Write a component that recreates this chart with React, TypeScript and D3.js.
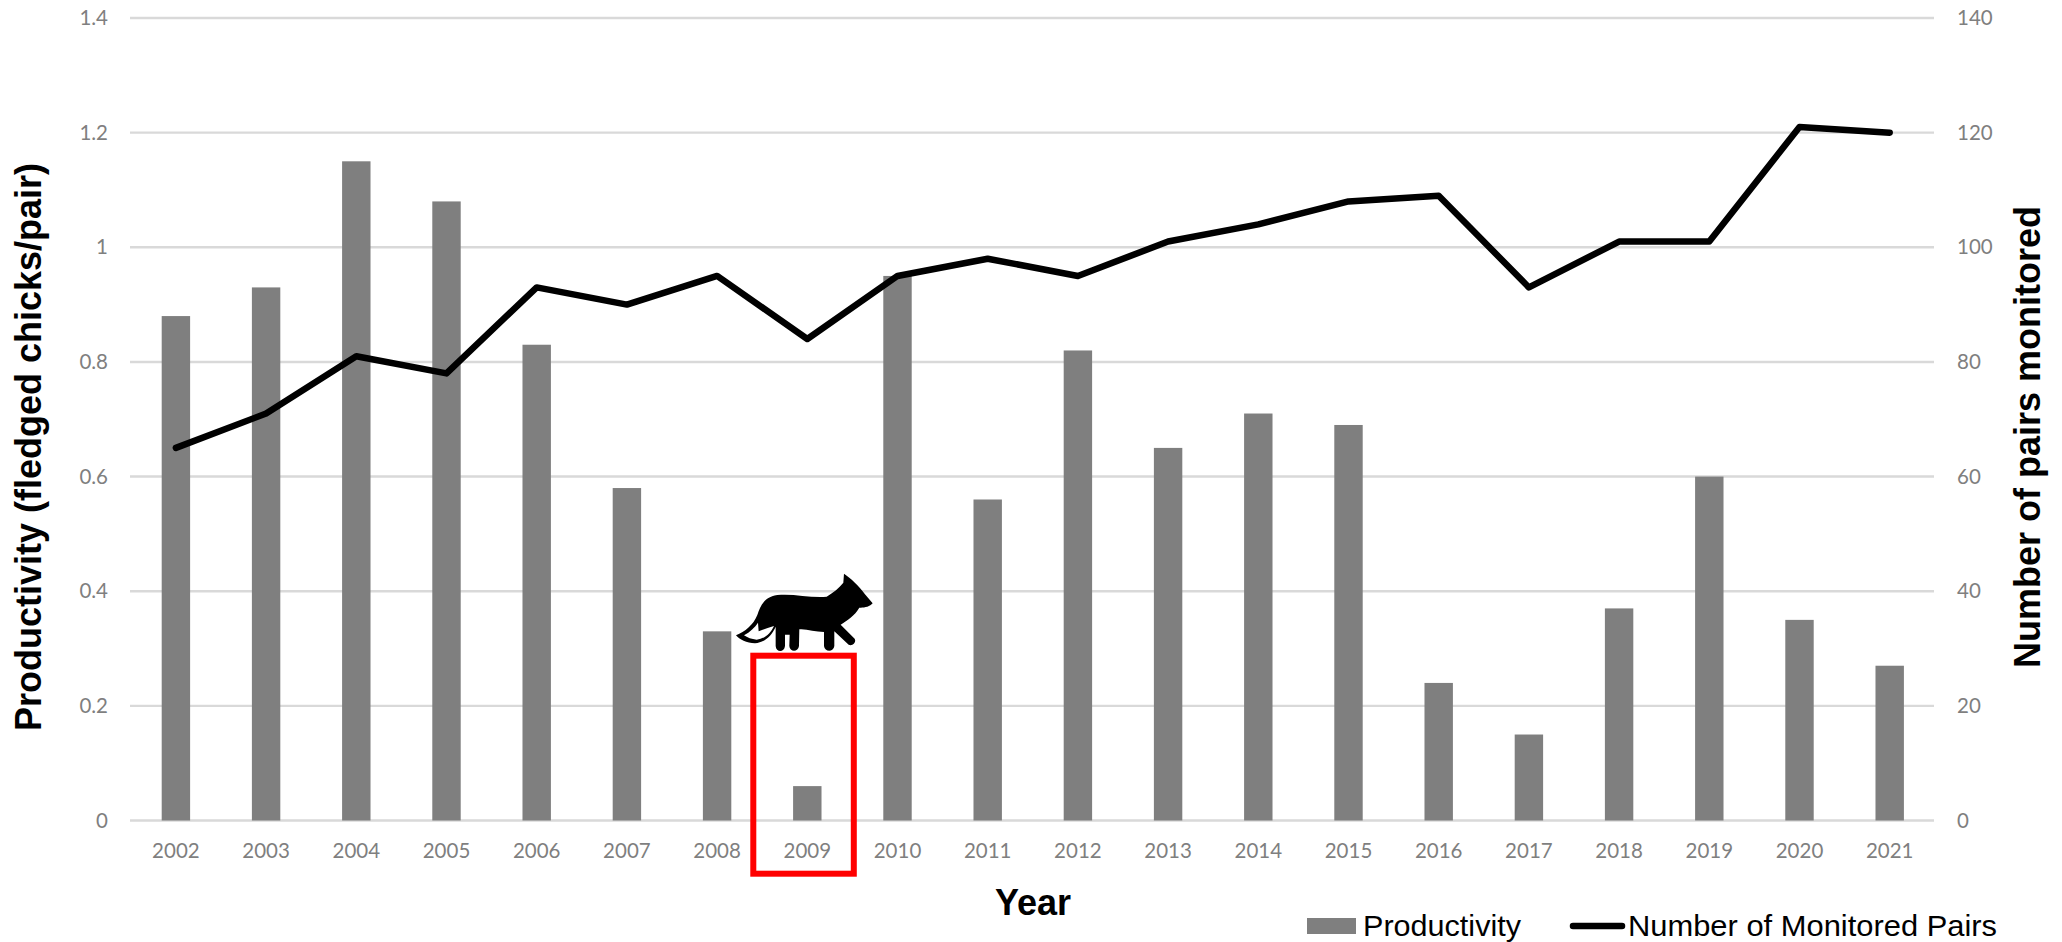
import React from "react";
import * as d3 from "d3";

const years = ["2002","2003","2004","2005","2006","2007","2008","2009","2010","2011","2012","2013","2014","2015","2016","2017","2018","2019","2020","2021"];
const productivity = [0.88,0.93,1.15,1.08,0.83,0.58,0.33,0.06,0.95,0.56,0.82,0.65,0.71,0.69,0.24,0.15,0.37,0.6,0.35,0.27];
const monitoredPairs = [65,71,81,78,93,90,95,84,95,98,95,101,104,108,109,93,101,101,121,120];
const leftTicks = [0,0.2,0.4,0.6,0.8,1,1.2,1.4];
const rightTicks = [0,20,40,60,80,100,120,140];
const highlightedYear = "2009";

const W = 2062, H = 942;
const plot = { left: 130, right: 1934, top: 18, bottom: 820.5 };

const x = d3.scaleBand<string>().domain(years).range([plot.left + 0.8, plot.right + 0.8]).paddingInner(0.685).paddingOuter(0.3425);
const yLeft = d3.scaleLinear().domain([0, 1.4]).range([plot.bottom, plot.top]);
const yRight = d3.scaleLinear().domain([0, 140]).range([plot.bottom, plot.top]);
const centre = (y: string) => (x(y) as number) + x.bandwidth() / 2;

const pairsLine = d3.line<number>().x((_, i) => centre(years[i])).y(d => yRight(d));

const tickFont = "Lato, 'Open Sans', sans-serif";
const titleFont = "'Liberation Sans', Arial, sans-serif";
const tickGrey = "#7f7f7f";

// Running fox silhouette, in its own local units
const foxBody = "M108 286 C135 275 160 255 172 225 C182 195 195 170 232 165 C280 160 330 174 380 170 C400 158 418 143 430 128 L432 101 C450 113 478 138 495 163 L518 190 C510 201 490 204 478 203 C465 227 440 242 422 254 L464 296 C470 306 458 320 446 314 L403 274 L403 318 C401 337 374 337 372 318 L372 276 C345 276 320 266 298 268 L297 318 C295 337 269 337 268 318 L269 284 L255 284 L255 318 C253 338 228 338 227 318 L227 260 C215 287 195 307 165 310 C140 310 118 298 108 286 Z";
const foxTailTip = "M132 286 C150 276 165 262 174 248 L176 274 L203 264 L222 258 C212 280 195 296 170 299 C155 298 142 293 132 286 Z";

export default function App() {
  const band = years.indexOf(highlightedYear);
  const hx = centre(years[band]);
  return (
    <svg width={W} height={H} viewBox={`0 0 ${W} ${H}`} style={{ position: "absolute", left: 0, top: 0, background: "#fff" }}>
      {leftTicks.map(t => (
        <line key={t} x1={plot.left} x2={plot.right} y1={yLeft(t)} y2={yLeft(t)} stroke="#d9d9d9" strokeWidth={2.4} />
      ))}
      {years.map((y, i) => (
        <rect key={y} x={x(y)} y={yLeft(productivity[i])} width={x.bandwidth()} height={plot.bottom - yLeft(productivity[i])} fill="#7f7f7f" />
      ))}
      <path d={pairsLine(monitoredPairs) as string} fill="none" stroke="#000" strokeWidth={6.5} strokeLinecap="round" strokeLinejoin="round" />

      {leftTicks.map(t => (
        <text key={t} x={108} y={yLeft(t) + 7} textAnchor="end" fontFamily={tickFont} fontSize={20.5} fill={tickGrey}>{String(t)}</text>
      ))}
      {rightTicks.map(t => (
        <text key={t} x={1957} y={yRight(t) + 7} textAnchor="start" fontFamily={tickFont} fontSize={20.5} fill={tickGrey}>{t}</text>
      ))}
      {years.map(y => (
        <text key={y} x={centre(y)} y={858} textAnchor="middle" fontFamily={tickFont} fontSize={20.5} fill={tickGrey}>{y}</text>
      ))}

      <text transform="translate(41 447) rotate(-90)" textAnchor="middle" fontFamily={titleFont} fontWeight={700} fontSize={36} fill="#000">Productivity (fledged chicks/pair)</text>
      <text transform="translate(2040 437) rotate(-90)" textAnchor="middle" fontFamily={titleFont} fontWeight={700} fontSize={36} fill="#000">Number of pairs monitored</text>
      <text x={1033} y={915} textAnchor="middle" fontFamily={titleFont} fontWeight={700} fontSize={36} fill="#000">Year</text>

      <rect x={hx - 54} y={655.7} width={100.5} height={218} fill="none" stroke="#ff0000" strokeWidth={6} />
      <g transform="translate(700 540) scale(0.3333)">
        <path d={foxBody} fill="#000" />
        <path d={foxTailTip} fill="#fff" />
      </g>

      <rect x={1307} y={918} width={49} height={16} fill="#7f7f7f" />
      <text x={1363} y={936} fontFamily={titleFont} fontSize={29} textLength={158} lengthAdjust="spacingAndGlyphs" fill="#000">Productivity</text>
      <line x1={1573} x2={1622} y1={926} y2={926} stroke="#000" strokeWidth={6.5} strokeLinecap="round" />
      <text x={1628} y={936} fontFamily={titleFont} fontSize={29} textLength={369} lengthAdjust="spacingAndGlyphs" fill="#000">Number of Monitored Pairs</text>
    </svg>
  );
}
